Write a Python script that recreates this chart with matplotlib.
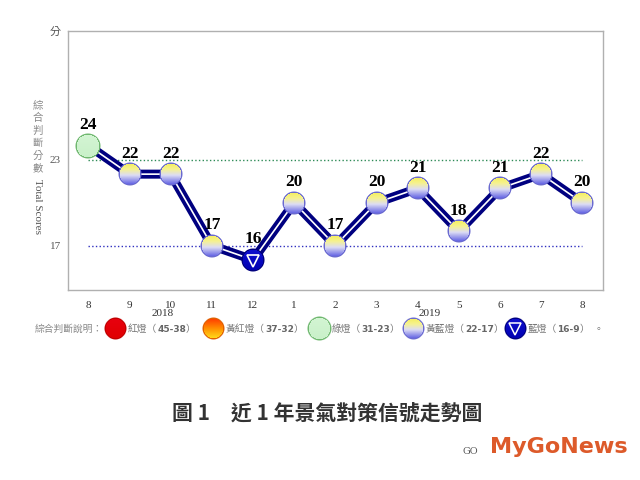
import matplotlib.pyplot as plt
import numpy as np
from matplotlib.lines import Line2D
from matplotlib.offsetbox import OffsetImage, AnnotationBbox

# datos del grafico
months = ['8', '9', '10', '11', '12', '1', '2', '3', '4', '5', '6', '7', '8']
scores = [24, 22, 22, 17, 16, 20, 17, 20, 21, 18, 21, 22, 20]
years = ['2018', '2019']
year_pos = [1.8, 8.3]
green_line = 23
blue_line = 17
legend_names = ['紅燈', '黃紅燈', '綠燈', '黃藍燈', '藍燈']
legend_ranges = ['45-38', '37-32', '31-23', '22-17', '16-9']

CJK = ['Noto Sans CJK TC', 'DejaVu Sans']
SERIF = ['Liberation Serif', 'Noto Sans CJK TC']


def hex2rgb(h):
    h = h.lstrip('#')
    return np.array([int(h[i:i + 2], 16) / 255 for i in (0, 2, 4)])


# bolita con degradado vertical
def ball(stops, edge, size=24):
    y, x = np.mgrid[0:size, 0:size] + 0.5
    c = size / 2
    r = np.hypot(x - c, y - c)
    t = y / size
    pos = [s[0] for s in stops]
    cols = [hex2rgb(s[1]) for s in stops]
    img = np.zeros((size, size, 4))
    for k in range(3):
        img[..., k] = np.interp(t, pos, [cc[k] for cc in cols])
    ring = r > c - 1.6
    img[ring, :3] = hex2rgb(edge)
    img[..., 3] = np.clip(c - r, 0, 1)
    return img


yb_ball = ball([(0, '#f4ee50'), (0.3, '#f6f290'), (0.55, '#dcdcf4'), (1, '#4a4ae0')], '#6a6ad0')
green_ball = ball([(0, '#d4f5d4'), (1, '#c8f0c8')], '#70b870', size=26)
blue_ball = ball([(0, '#1010d0'), (1, '#0000b0')], '#000080')
red_ball = ball([(0, '#e80010'), (1, '#e00000')], '#c00000')
orange_ball = ball([(0, '#ff3000'), (0.5, '#ff9000'), (1, '#ffe820')], '#e06000')


def pick(v):
    if v >= 23:
        return green_ball
    if v >= 17:
        return yb_ball
    return blue_ball


fig = plt.figure(figsize=(6.4, 4.8), dpi=100)
ax = fig.add_axes([0.106, 0.396, 0.836, 0.539])

x = np.arange(len(months))
ax.set_xlim(-0.5, len(months) - 0.5)
ax.set_ylim(13.9, 32)

ax.plot([0, len(months) - 1], [green_line] * 2, ls=':', color='#2e8b57', lw=1)
ax.plot([0, len(months) - 1], [blue_line] * 2, ls=':', color='#3030c0', lw=1)

# linea doble azul marino / blanco
ax.plot(x, scores, color='#000080', lw=6.5, solid_joinstyle='miter', zorder=3)
ax.plot(x, scores, color='white', lw=1.2, zorder=4)

for xi, v in zip(x, scores):
    ab = AnnotationBbox(OffsetImage(pick(v), zoom=0.72), (xi, v), frameon=False, zorder=5)
    ax.add_artist(ab)
    if v <= 16:
        ax.plot(xi, v - 0.1, marker='v', ms=9, mfc='none', mec='white', mew=1.2, zorder=6)
    ax.annotate(str(v), (xi, v), xytext=(0, 9), textcoords='offset points',
                ha='center', va='bottom', fontsize=12.5, fontweight='bold',
                family='Liberation Serif', color='black', zorder=6)

ax.set_xticks(x)
ax.set_xticklabels(months, family='Liberation Serif', fontsize=8, color='#333')
ax.set_yticks([blue_line, green_line, 32])
ax.set_yticklabels([str(blue_line), str(green_line), '分'], family=SERIF, fontsize=8, color='#555')
ax.tick_params(axis='x', length=0, pad=8)
ax.tick_params(axis='y', length=0, pad=5)
for s in ax.spines.values():
    s.set_color('#b0b0b0')
    s.set_linewidth(1)

for yr, p in zip(years, year_pos):
    ax.text(p, -0.09, yr, transform=ax.get_xaxis_transform(), ha='center', va='center',
            family='Liberation Serif', fontsize=8, color='#333')

# titulo del eje y
fig.text(0.059, 0.715, '綜\n合\n判\n斷\n分\n數', ha='center', va='center', family=CJK,
         fontsize=7.5, color='#888', linespacing=1.3)
fig.text(0.059, 0.57, 'Total Scores', rotation=270, ha='center', va='center',
         family='Liberation Serif', fontsize=8, color='#555')

# leyenda
ly = 1 - 329 / 480
W = fig.bbox.width
fig.text(35 / 640, ly, '綜合判斷說明：', ha='left', va='center', family=CJK, fontsize=7, color='#888')
icons = [red_ball, orange_ball, green_ball, yb_ball, blue_ball]
icon_x = [115, 213, 319, 413, 515]
for k, img in enumerate(icons):
    ix = icon_x[k] / 640
    fig.add_artist(AnnotationBbox(OffsetImage(img, zoom=0.68), (ix, ly), xycoords='figure fraction',
                                  frameon=False, zorder=5))
    tail = '。' if k == len(icons) - 1 else '，'
    t1 = fig.text(ix + 13 / 640, ly, legend_names[k] + '（', ha='left', va='center', family=CJK,
                  fontsize=7, color='#777')
    fig.canvas.draw()
    t2 = fig.text(t1.get_window_extent().x1 / W, ly, legend_ranges[k], ha='left', va='center',
                  family='DejaVu Sans', fontsize=6.5, fontweight='bold', color='#666')
    fig.canvas.draw()
    fig.text(t2.get_window_extent().x1 / W, ly, '）  ' + tail, ha='left', va='center', family=CJK,
             fontsize=7, color='#777')
fig.add_artist(Line2D([515 / 640], [ly - 0.001], marker='v', ms=8, mfc='none', mec='white', mew=1.1,
                      transform=fig.transFigure, zorder=20))

fig.text(0.512, 1 - 413 / 480, '圖 1　近 1 年景氣對策信號走勢圖', ha='center', va='center',
         family=CJK, fontsize=15, fontweight='bold', color='#333')

fig.text(0.765, 1 - 447 / 480, 'MyGoNews', ha='left', va='center', family='DejaVu Sans',
         fontsize=16, fontweight='bold', color='#dd5a2a')
fig.text(0.735, 1 - 452 / 480, 'GO', ha='center', va='center', family='DejaVu Serif',
         fontsize=7, color='#555')

fig.savefig('out.png', dpi=100)
